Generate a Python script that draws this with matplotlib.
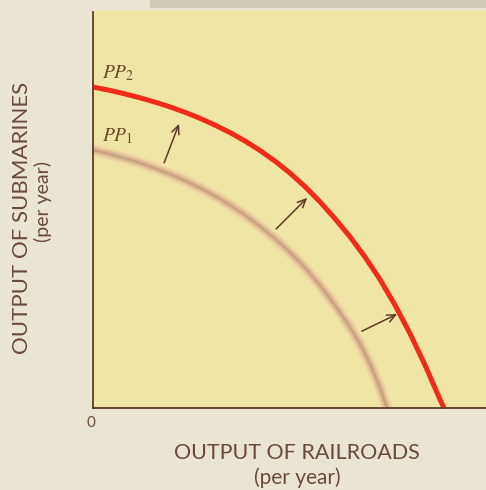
import matplotlib
matplotlib.use("Agg")
import matplotlib.pyplot as plt
from matplotlib.patches import Rectangle

# Production possibility frontiers (output of railroads vs. output of submarines, 0-100 scale)
pp2_railroads = [0.0, 4.33, 8.14, 11.96, 15.78, 19.59, 23.41, 27.23, 31.04, 34.86, 38.68,
                 42.49, 46.31, 50.13, 53.94, 57.76, 61.58, 65.39, 69.21, 73.03, 76.84,
                 80.66, 84.48, 88.30, 89.31]
pp2_submarines = [80.65, 79.80, 78.92, 77.94, 76.86, 75.65, 74.30, 72.79, 71.08, 69.20, 67.09,
                  64.70, 62.04, 59.02, 55.63, 51.81, 47.56, 43.04, 37.94, 32.29, 25.88,
                  18.72, 10.80, 2.14, 0.0]

pp1_railroads = [0.0, 4.07, 7.89, 11.70, 15.52, 19.34, 23.16, 26.97, 30.79, 34.61, 38.42,
                 42.24, 46.06, 49.87, 53.69, 57.51, 61.32, 65.14, 67.94, 70.48, 73.03, 74.81]
pp1_submarines = [64.82, 63.87, 62.81, 61.66, 60.33, 58.87, 57.24, 55.43, 53.42, 51.16, 48.64,
                  45.85, 42.76, 39.32, 35.48, 31.16, 26.18, 20.70, 16.13, 11.11, 5.08, 0.0]

# Outward shift arrows: (tail_x, tail_y, head_x, head_y)
shift_arrows = [
    (18.1, 61.6, 21.9, 71.4),
    (46.6, 45.0, 54.5, 52.8),
    (68.4, 19.3, 77.4, 23.6),
]

curve_labels = ["$PP_2$", "$PP_1$"]
x_title = "OUTPUT OF RAILROADS"
y_title = "OUTPUT OF SUBMARINES"
unit_note = "(per year)"

W, H = 486, 490
brown = "#5e3a26"
text_col = "#6b4a3e"

plt.rcParams["mathtext.fontset"] = "stix"

fig = plt.figure(figsize=(W / 100, H / 100), dpi=100)
fig.patch.set_facecolor("#eae4d5")

# faint grey band along the top edge of the page
fig.add_artist(Rectangle((150 / W, (H - 8) / H), 1, 8 / H, transform=fig.transFigure,
                         facecolor="#cdc4b2", edgecolor="none", alpha=0.8))

ax = fig.add_axes([93 / W, 82 / H, 393 / W, 398 / H])
ax.set_facecolor("#efe5a4")
ax.set_xlim(0, 100)
ax.set_ylim(0, 100)
ax.set_xticks([])
ax.set_yticks([])
for s in ["top", "right"]:
    ax.spines[s].set_visible(False)
for s in ["left", "bottom"]:
    ax.spines[s].set_color(brown)
    ax.spines[s].set_linewidth(1.3)
ax.spines["left"].set_bounds(0, 99.5)

# original frontier: soft, faded stroke
ax.plot(pp1_railroads, pp1_submarines, color="#ecbf9f", lw=8, alpha=0.4,
        solid_capstyle="butt", solid_joinstyle="round")
ax.plot(pp1_railroads, pp1_submarines, color="#d8ab8a", lw=5, alpha=0.55,
        solid_capstyle="butt", solid_joinstyle="round")
ax.plot(pp1_railroads, pp1_submarines, color="#b39272", lw=2, alpha=0.55,
        solid_capstyle="butt", solid_joinstyle="round")

# new frontier
ax.plot(pp2_railroads, pp2_submarines, color="#f22a1a", lw=3.6,
        solid_capstyle="butt", solid_joinstyle="round", clip_on=False)

for tx, ty, hx, hy in shift_arrows:
    ax.annotate("", xy=(hx, hy), xytext=(tx, ty),
                arrowprops=dict(arrowstyle="->,head_length=0.6,head_width=0.27",
                                color=brown, lw=1.1, shrinkA=0, shrinkB=0))

ax.text(2.3, 82.9, curve_labels[0], fontsize=14, color="#6b4a2a", ha="left", va="baseline")
ax.text(2.3, 67.1, curve_labels[1], fontsize=14, color="#6b4a2a", ha="left", va="baseline")

label_font = dict(family="Lato", color=text_col, ha="center", va="center")

fig.text(91 / W, 1 - 423 / H, "0", fontsize=11, **label_font)
fig.text(297 / W, 1 - 453 / H, x_title, fontsize=15.5, **label_font)
fig.text(297 / W, 1 - 478 / H, unit_note, fontsize=15, **label_font)
fig.text(22 / W, 1 - 218 / H, y_title, fontsize=16, rotation=90, **label_font)
fig.text(43 / W, 1 - 201 / H, unit_note, fontsize=14, rotation=90, **label_font)

fig.savefig("out.png", dpi=100, facecolor=fig.get_facecolor())
